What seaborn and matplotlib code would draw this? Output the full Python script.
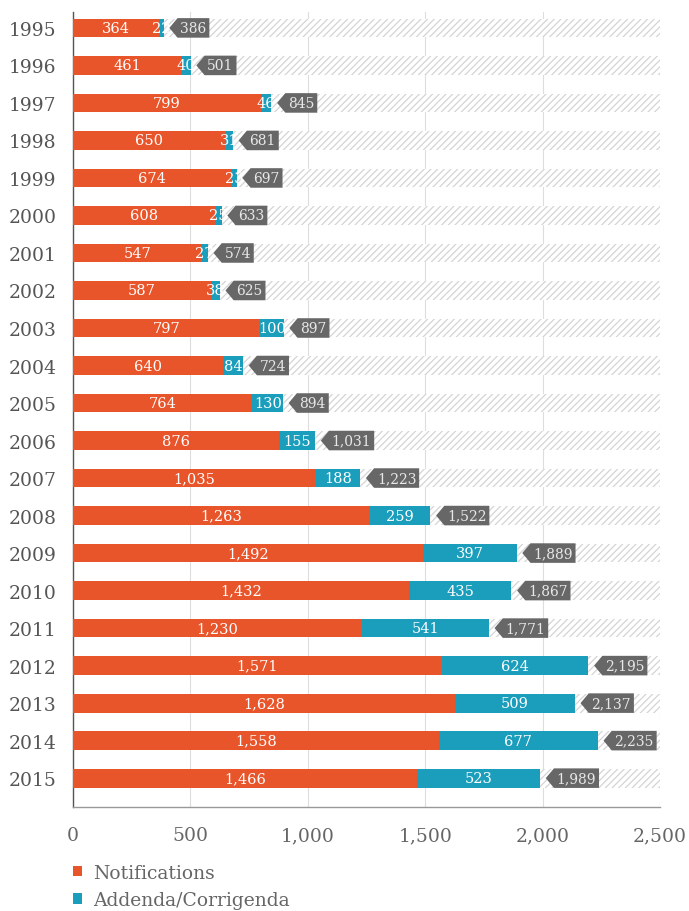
import matplotlib
matplotlib.use("Agg")
import matplotlib.pyplot as plt
import seaborn as sns
import pandas as pd
from matplotlib.path import Path
from matplotlib.patches import Patch

years = [str(y) for y in range(1995, 2016)]
notifications = [364, 461, 799, 650, 674, 608, 547, 587, 797, 640, 764,
                 876, 1035, 1263, 1492, 1432, 1230, 1571, 1628, 1558, 1466]
addenda = [22, 40, 46, 31, 23, 25, 27, 38, 100, 84, 130,
           155, 188, 259, 397, 435, 541, 624, 509, 677, 523]
x_ticks = [0, 500, 1000, 1500, 2000, 2500]
x_max = 2500

ORANGE = "#E9552B"
TEAL = "#1A9EBC"
TAGGRAY = "#676767"

sns.set_theme(style="white")
plt.rcParams["font.family"] = ["DejaVu Serif", "DejaVu Sans"]
plt.rcParams["hatch.color"] = "#d4d4d4"
plt.rcParams["hatch.linewidth"] = 0.9

df = pd.DataFrame({"year": years, "notif": notifications, "add": addenda})
df["total"] = df["notif"] + df["add"]
df["bg"] = x_max

fig = plt.figure(figsize=(6.89, 9.12), dpi=100)
ax = fig.add_axes([0.106, 0.114, 0.852, 0.872])

bw = 0.5
# hatched background
sns.barplot(data=df, y="year", x="bg", orient="h", color="white", width=bw,
            ax=ax, saturation=1, edgecolor="none", linewidth=0, zorder=1)
for p in ax.patches:
    p.set_hatch("/////")
    p.set_edgecolor("#d4d4d4")
    p.set_linewidth(0)
sns.barplot(data=df, y="year", x="total", orient="h", color=TEAL, width=bw,
            ax=ax, saturation=1, linewidth=0, zorder=2)
sns.barplot(data=df, y="year", x="notif", orient="h", color=ORANGE, width=bw,
            ax=ax, saturation=1, linewidth=0, zorder=3)

for i, r in df.iterrows():
    ax.text(r["notif"] / 2, i, f"{r['notif']:,}", ha="center", va="center",
            color="white", fontsize=10.5, zorder=5)
    ax.text(r["notif"] + r["add"] / 2, i, f"{r['add']:,}", ha="center",
            va="center", color="white", fontsize=10.5, zorder=5)


def tag_box(x0, y0, width, height, mutation_size):
    pad = 0.2 * mutation_size
    x0 -= pad
    y0 -= pad
    w = width + 2 * pad
    h = height + 2 * pad
    a = h * 0.42
    verts = [(x0 - a, y0 + h / 2), (x0, y0), (x0 + w, y0), (x0 + w, y0 + h),
             (x0, y0 + h), (x0 - a, y0 + h / 2)]
    return Path(verts, closed=True)


for i, r in df.iterrows():
    ax.annotate(f"{r['total']:,}", xy=(r["total"], i), xytext=(12, 0),
                textcoords="offset points", ha="left", va="center",
                color="#e8e8e8", fontsize=10, zorder=6,
                bbox=dict(boxstyle=tag_box, fc=TAGGRAY, ec="none"))

ax.set_xlim(0, 2500)
ax.set_ylim(len(years) - 0.23, -0.43)
ax.set_xticks(x_ticks)
ax.set_xticklabels([f"{t:,}" for t in x_ticks])
ax.xaxis.grid(True, color="#dddddd", linewidth=0.8)
ax.set_axisbelow(True)
ax.set_xlabel("")
ax.set_ylabel("")
ax.tick_params(axis="both", length=0)
ax.tick_params(axis="y", labelsize=13.5, labelcolor="#555555", pad=12)
ax.tick_params(axis="x", labelsize=13.5, labelcolor="#666666", pad=14)
for s in ["top", "right"]:
    ax.spines[s].set_visible(False)
ax.spines["left"].set_color("#555555")
ax.spines["left"].set_linewidth(1.0)
ax.spines["bottom"].set_color("#999999")
ax.spines["bottom"].set_linewidth(1.0)

handles = [Patch(facecolor=ORANGE, edgecolor="none", label="Notifications"),
           Patch(facecolor=TEAL, edgecolor="none", label="Addenda/Corrigenda")]
leg = fig.legend(handles=handles, loc="upper left", bbox_to_anchor=(0.095, 0.06),
                 frameon=False, fontsize=13.5, handlelength=0.5, handleheight=0.5,
                 handletextpad=0.6, labelspacing=0.5, borderaxespad=0)
for t in leg.get_texts():
    t.set_color("#666666")

fig.savefig("out.png", dpi=100)
